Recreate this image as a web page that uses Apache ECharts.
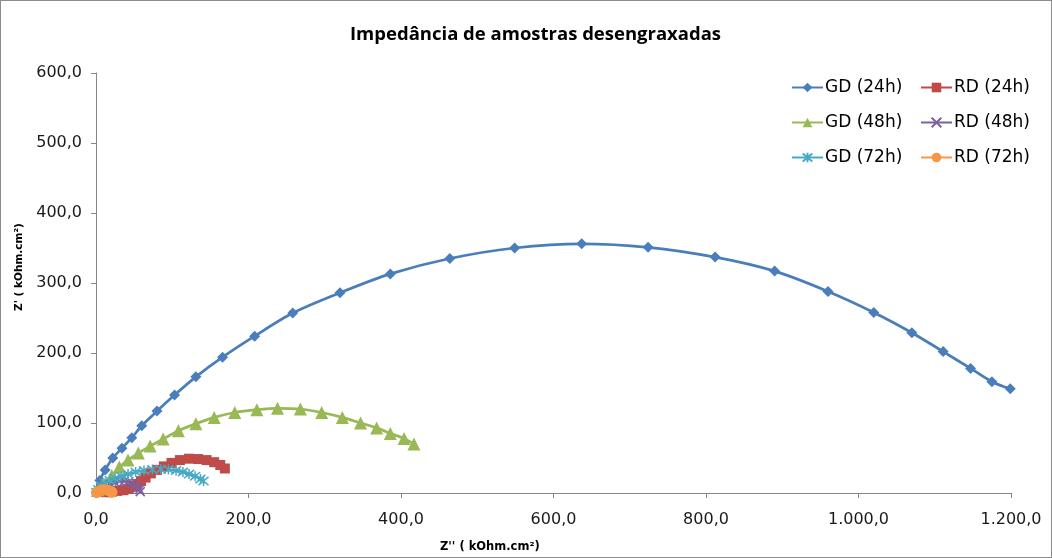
<!DOCTYPE html>
<html>
<head>
<meta charset="utf-8">
<script src="https://cdn.jsdelivr.net/npm/echarts@6/dist/echarts.min.js"></script>
<style>
html,body{margin:0;padding:0;background:#fff;}
#c{width:1052px;height:558px;box-sizing:border-box;border:1px solid #8c8c8c;}
</style>
</head>
<body>
<div id="c"></div>
<script>
// ---- data (Z'' , Z') in kOhm.cm2 ----
var titleText = "Impedância de amostras desengraxadas";
var xAxisName = "Z'' ( kOhm.cm²)";
var yAxisName = "Z' ( kOhm.cm²)";
var seriesNames = ["GD (24h)", "RD (24h)", "GD (48h)", "RD (48h)", "GD (72h)", "RD (72h)"];

var gd24 = [[0.5,2],[5,18],[12,33],[22,50],[34,64],[47,79],[60,96],[80,117],[103,140],[131,166],[166,194],[208,224],[258,257],[320,286],[386,313],[464,335],[549,350],[637,356],[724,351],[812,337],[890,317],[960,288],[1020,258],[1070,229],[1111,202],[1147,178],[1175,159],[1199,149]];
var rd24 = [[14,1],[21,2],[28,3],[36,4],[43,6],[49,9],[54,13],[59,17],[65,22],[72,28],[80,33],[89,38],[99,43],[110,47],[122,49],[134,48.5],[145,47],[155,44],[163,40],[169,35]];
var gd48 = [[2.6,4],[9.6,13],[20.6,25],[30.6,37],[42,47],[55.5,57],[71,67],[88,77],[108,89],[131,99],[155,108],[182,115],[211,119],[238,121],[268,120],[296,115],[323,108],[347,100],[368,93],[386,85],[404,78],[417,70]];
var rd48 = [[3,1],[8,5],[13,9],[19,12],[25,15],[31,17],[37,17],[43,16],[48,14],[52,11],[55,8],[57,5],[58,2]];
var gd72 = [[0.5,1],[3,5],[7,10],[12,14],[18,18],[25,21],[33,24],[42,27],[52,30],[63,32],[74,33.5],[85,34],[95,33.5],[105,32],[114,30],[122,27],[130,24],[137,20],[141,17]];
var rd72 = [[1,0.5],[3,2],[6,3.5],[9,4.5],[12,4.5],[15,4],[18,3],[20,2],[21,1]];

var xTicks = {min:0, max:1200, interval:200};
var yTicks = {min:0, max:600, interval:100};

var colors = ["#4A7EBB","#BE4B48","#98B954","#7D60A0","#46AAC5","#F79646"];
var FONT = "DejaVu Sans";

function fmt(v){
  var s = v.toFixed(1).split(".");
  var i = s[0].replace(/\B(?=(\d{3})+(?!\d))/g, ".");
  return i + "," + s[1];
}

var X_PATH = 'path://M0,0L10,10M10,0L0,10';
var AST_PATH = 'path://M0,0L10,10M10,0L0,10M5,-1L5,11';

function mk(name, data, color, symbol, size, extra){
  var s = {
    name: name, type: 'line', data: data, symbol: symbol, symbolSize: size,
    showAllSymbol: true, smooth: 0.3,
    lineStyle: {color: color, width: 2.75},
    itemStyle: {color: color, borderWidth: 0},
    emphasis: {disabled: true},
    animation: false
  };
  if (extra) { for (var k in extra) s[k] = extra[k]; }
  return s;
}

var legendText = {fontFamily: FONT, fontSize: 17, color: '#000', padding: [0,0,0,-3]};

var chart = echarts.init(document.getElementById('c'));
chart.setOption({
  animation: false,
  title: [
    {text: titleText, left: 344, top: 19, textStyle: {fontFamily: "Open Sans", fontSize: 18.5, fontWeight: 'bold', color: '#000'}},
    {text: xAxisName, left: 434, top: 535, textStyle: {fontFamily: FONT, fontSize: 11.5, fontWeight: 'bold', color: '#000'}}
  ],
  graphic: [
    {type: 'text', x: 18, y: 266, rotation: Math.PI/2,
     style: {text: yAxisName, fontFamily: FONT, fontSize: 10.5, fontWeight: 'bold', fill: '#000', align: 'center', verticalAlign: 'middle'}}
  ],
  grid: {left: 95, right: 40, top: 72, bottom: 64, containLabel: false},
  legend: [
    {data: ["GD (24h)","GD (48h)","GD (72h)"], orient: 'vertical', left: 785, top: 73, itemGap: 18, itemWidth: 31, itemHeight: 12,
     textStyle: legendText},
    {data: ["RD (24h)","RD (48h)","RD (72h)"], orient: 'vertical', left: 914, top: 73, itemGap: 18, itemWidth: 31, itemHeight: 12,
     textStyle: legendText}
  ],
  xAxis: {
    type: 'value', min: xTicks.min, max: xTicks.max, interval: xTicks.interval,
    axisLine: {show: true, lineStyle: {color: '#868686', width: 1}},
    axisTick: {show: true, length: 5, lineStyle: {color: '#868686'}},
    splitLine: {show: false},
    axisLabel: {formatter: fmt, fontFamily: FONT, fontSize: 16, color: '#1a1a1a', margin: 19}
  },
  yAxis: {
    type: 'value', min: yTicks.min, max: yTicks.max, interval: yTicks.interval,
    axisLine: {show: true, lineStyle: {color: '#868686', width: 1}},
    axisTick: {show: true, length: 5, lineStyle: {color: '#868686'}},
    splitLine: {show: false},
    axisLabel: {formatter: fmt, fontFamily: FONT, fontSize: 16, color: '#1a1a1a', margin: 14}
  },
  series: [
    mk(seriesNames[0], gd24, colors[0], 'diamond', 11),
    mk(seriesNames[1], rd24, colors[1], 'rect', 10),
    mk(seriesNames[2], gd48, colors[2], 'triangle', 13),
    mk(seriesNames[3], rd48, colors[3], X_PATH, 9, {itemStyle: {color: colors[3], borderColor: colors[3], borderWidth: 1.5}}),
    mk(seriesNames[4], gd72, colors[4], AST_PATH, 10, {itemStyle: {color: colors[4], borderColor: colors[4], borderWidth: 1.5}}),
    mk(seriesNames[5], rd72, colors[5], 'circle', 11)
  ]
});
</script>
</body>
</html>
